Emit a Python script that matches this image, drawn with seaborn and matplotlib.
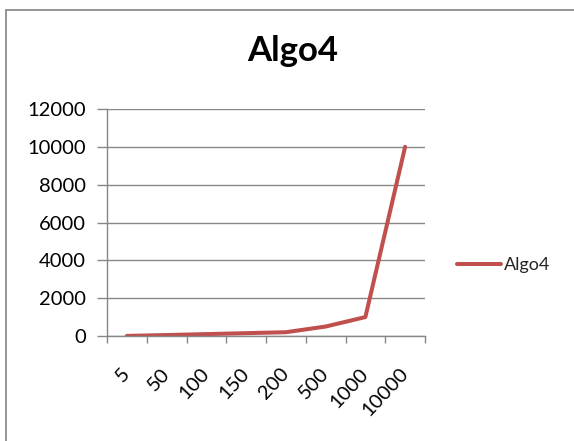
import matplotlib
matplotlib.use("Agg")
import matplotlib.pyplot as plt
from matplotlib.lines import Line2D
import seaborn as sns
import pandas as pd

# Input sizes and measured values for Algo4
sizes = ["5", "50", "100", "150", "200", "500", "1000", "10000"]
values = [5, 50, 100, 150, 200, 500, 1000, 10000]
y_ticks = [0, 2000, 4000, 6000, 8000, 10000, 12000]
series_name = "Algo4"

df = pd.DataFrame({"n": sizes, "value": values, "series": series_name})

sns.set_theme(style="white")
plt.rcParams["font.family"] = ["Lato", "DejaVu Sans"]

LINE_RED = "#C0504D"
GRID_GREY = "#878787"
TEXT = "#000000"
TICK_SIZE = 14.5

fig = plt.figure(figsize=(5.74, 4.41), dpi=100)
ax = fig.add_axes([107 / 574, 1 - 336 / 441, (425 - 107) / 574, (336 - 109) / 441])

sns.lineplot(data=df, x="n", y="value", hue="series", palette=[LINE_RED],
             sort=False, linewidth=2.9, ax=ax, legend=True)

ax.set_xlim(-0.5, len(sizes) - 0.5)
ax.set_ylim(0, 12000)
ax.set_xlabel("")
ax.set_ylabel("")

# horizontal gridlines
ax.set_yticks(y_ticks)
ax.set_yticklabels([str(t) for t in y_ticks])
ax.yaxis.grid(True, color=GRID_GREY, linewidth=1.0)
ax.xaxis.grid(False)
ax.set_axisbelow(True)
ax.tick_params(axis="y", which="major", direction="out", length=7, width=1.0,
               color=GRID_GREY, pad=8, labelsize=TICK_SIZE, labelcolor=TEXT, left=True)

# category labels at centres, tick marks on boundaries
ax.set_xticks(range(len(sizes)))
ax.set_xticklabels(sizes, rotation=47, ha="right", va="center", rotation_mode="anchor")
ax.set_xticks([i - 0.5 for i in range(len(sizes) + 1)], minor=True)
ax.tick_params(axis="x", which="major", length=0, pad=25, labelsize=TICK_SIZE, labelcolor=TEXT)
ax.tick_params(axis="x", which="minor", direction="out", length=5, width=1.0,
               color=GRID_GREY, bottom=True)

for side in ["top", "right"]:
    ax.spines[side].set_visible(False)
for side in ["left", "bottom"]:
    ax.spines[side].set_color(GRID_GREY)
    ax.spines[side].set_linewidth(1.0)

ax.legend(handles=[Line2D([0], [0], color=LINE_RED, linewidth=2.9)], labels=[series_name],
          loc="center left", bbox_to_anchor=(457 / 574, 1 - 265 / 441),
          bbox_transform=fig.transFigure, frameon=False, fontsize=13,
          handlelength=2.45, handletextpad=0.15, borderpad=0, borderaxespad=0)

fig.text(293 / 574, 1 - 51 / 441, "Algo4", ha="center", va="center",
         fontsize=25, fontweight="bold", color=TEXT)

# chart-area border
fig.add_artist(Line2D([6 / 574, 6 / 574], [0, 1 - 9.5 / 441], transform=fig.transFigure,
                      color="#8C8C8C", linewidth=1.3))
fig.add_artist(Line2D([6 / 574, 1], [1 - 9.5 / 441, 1 - 9.5 / 441], transform=fig.transFigure,
                      color="#8C8C8C", linewidth=1.3))

fig.savefig("out.png", dpi=100, facecolor="white")
